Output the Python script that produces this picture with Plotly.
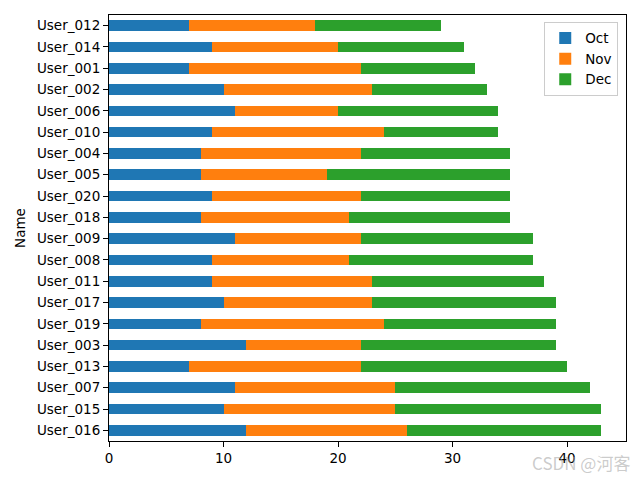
import plotly.graph_objects as go

names = ["User_012", "User_014", "User_001", "User_002", "User_006", "User_010",
         "User_004", "User_005", "User_020", "User_018", "User_009", "User_008",
         "User_011", "User_017", "User_019", "User_003", "User_013", "User_007",
         "User_015", "User_016"]
oct_vals = [7, 9, 7, 10, 11, 9, 8, 8, 9, 8, 11, 9, 9, 10, 8, 12, 7, 11, 10, 12]
nov_vals = [11, 11, 15, 13, 9, 15, 14, 11, 13, 13, 11, 12, 14, 13, 16, 10, 15, 14, 15, 14]
dec_vals = [11, 11, 10, 10, 14, 10, 13, 16, 13, 14, 15, 16, 15, 16, 15, 17, 18, 17, 18, 17]
series = [("Oct", oct_vals, "#1f77b4"), ("Nov", nov_vals, "#ff7f0e"), ("Dec", dec_vals, "#2ca02c")]

font = "DejaVu Sans"
fsize = 13.5

fig = go.Figure()
for label, vals, color in series:
    fig.add_trace(go.Bar(
        y=names, x=vals, name=label, orientation="h",
        marker=dict(color=color, line=dict(width=0)), width=0.5,
    ))

totals = [a + b + c for a, b, c in zip(oct_vals, nov_vals, dec_vals)]
xmax = max(totals) * 1.05

fig.update_layout(
    barmode="stack",
    width=640, height=480,
    margin=dict(l=101, r=22, t=7, b=47, autoexpand=False),
    paper_bgcolor="white", plot_bgcolor="white",
    font=dict(family=font, size=fsize, color="black"),
    showlegend=True,
    legend=dict(
        x=0.985, y=0.984, xanchor="right", yanchor="top",
        bordercolor="#cccccc", borderwidth=1, bgcolor="rgba(255,255,255,0.8)",
        font=dict(family=font, size=fsize), traceorder="normal",
        itemwidth=30, tracegroupgap=0,
    ),
    xaxis=dict(
        range=[0, xmax], tickvals=[0, 10, 20, 30, 40], showgrid=False, zeroline=False,
        showline=True, linecolor="black", linewidth=1.1, mirror=True,
        ticks="outside", ticklen=5, tickwidth=1.1, tickcolor="black",
        tickfont=dict(family=font, size=fsize), automargin=False,
    ),
    yaxis=dict(
        type="category", categoryorder="array", categoryarray=names,
        range=[len(names) - 0.5, -0.5], showgrid=False, zeroline=False,
        showline=True, linecolor="black", linewidth=1.1, mirror=True,
        ticks="outside", ticklen=5, tickwidth=1.1, tickcolor="black",
        tickfont=dict(family=font, size=fsize), automargin=False,
        title=dict(text="Name", font=dict(family=font, size=fsize), standoff=8),
    ),
)

fig.add_annotation(
    text="CSDN @河客", xref="paper", yref="paper", x=1.0, y=0, xshift=6, yshift=-21,
    xanchor="right", yanchor="middle", showarrow=False,
    font=dict(family="Noto Sans CJK SC", size=17, color="rgba(160,160,160,0.55)"),
)

fig.write_html("out.html")
